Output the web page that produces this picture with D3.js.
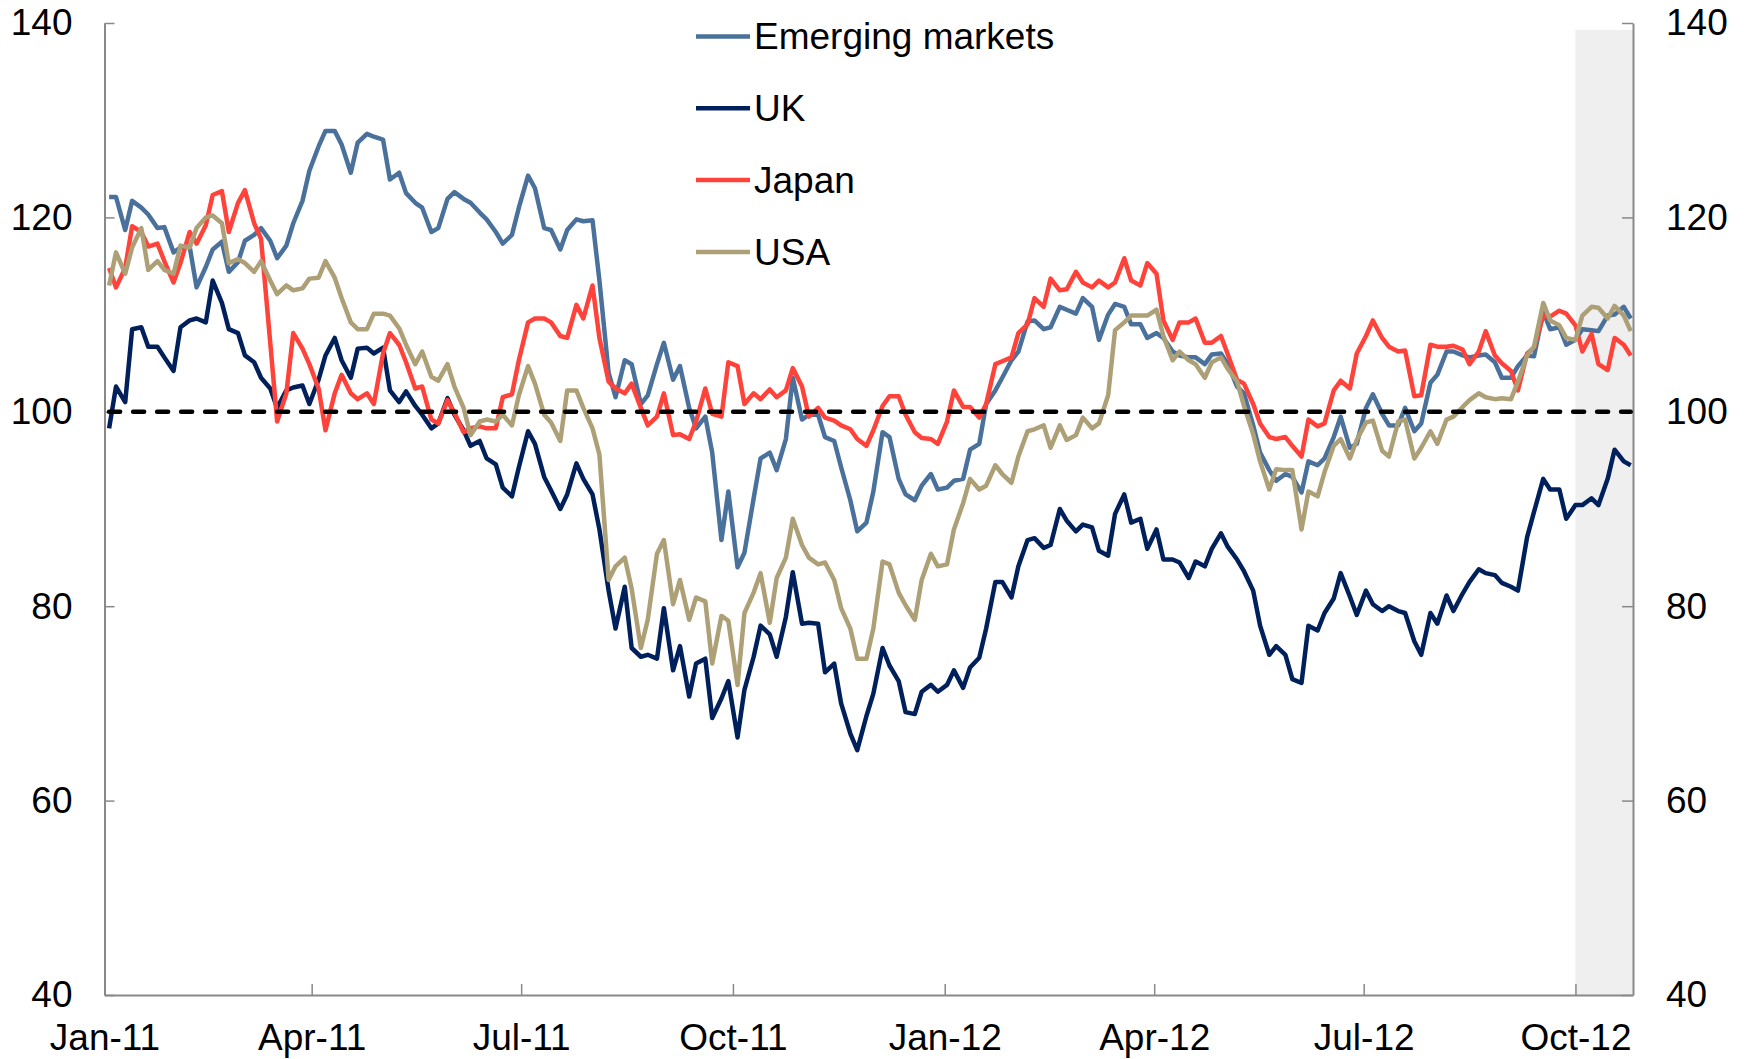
<!DOCTYPE html>
<html>
<head>
<meta charset="utf-8">
<script src="https://d3js.org/d3.v7.min.js"></script>
<style>
  body { margin: 0; background: #fff; }
  svg text { font-family: Arial, "Liberation Sans", sans-serif; fill: #000; }
</style>
</head>
<body>
<svg id="chart" width="1744" height="1059"></svg>
<script>
// stock indices, 100 = reference level, sampled twice a week (Mon / Thu) from 3 Jan 2011
var emerging = [
  122.1,122.1,118.7,121.7,121.0,120.3,118.9,119.0,116.4,116.9,117.0,112.8,114.9,116.7,117.5,114.4,115.4,117.6,118.2,118.9,
  117.6,115.8,117.1,119.4,121.7,124.8,127.3,128.9,128.9,127.5,124.6,127.7,128.6,128.3,128.0,123.9,124.6,122.5,
  121.5,121.0,118.5,118.9,121.9,122.6,121.9,121.5,120.5,119.8,118.5,117.3,118.2,121.0,124.3,123.0,118.9,118.7,116.7,118.7,
  119.8,119.6,119.7,113.5,104.0,101.5,105.3,104.9,100.8,101.7,104.9,107.1,103.3,104.7,100.4,98.3,
  99.5,95.8,86.8,91.8,84.0,85.5,91.1,95.2,95.8,94.0,97.2,103.5,99.2,99.7,99.7,97.4,97.0,94.3,90.9,87.7,
  88.6,91.8,97.9,97.4,93.1,91.5,90.9,92.4,93.6,92.0,92.2,92.9,93.1,96.1,96.7,100.8,102.2,103.5,
  105.3,106.2,109.3,109.4,108.5,108.7,110.8,110.5,110.1,111.7,110.8,107.4,110.0,111.1,110.8,109.0,109.0,107.6,108.1,107.6,
  106.2,105.8,105.6,105.6,104.9,105.9,106.0,104.9,102.6,101.9,98.6,95.8,94.0,92.9,93.6,93.3,91.7,94.9,
  94.5,95.2,97.4,99.5,96.3,96.7,100.4,101.8,99.8,98.6,98.6,100.4,98.0,98.8,103.0,103.8,106.2,106.2,105.8,105.6,
  105.8,105.9,105.1,103.5,103.5,104.7,105.8,105.7,110.3,108.5,108.7,106.9,107.4,108.5,108.4,108.3,109.9,110.0,110.8,109.6
];
var uk = [
  98.3,102.6,101.0,108.5,108.7,106.7,106.7,105.6,104.2,108.7,109.4,109.6,109.2,113.5,111.2,108.5,108.1,105.8,105.1,103.5,
  102.4,100.4,102.2,102.5,102.7,100.8,103.3,105.8,107.6,105.3,103.5,106.5,106.6,106.0,106.6,102.2,101.0,102.1,
  100.6,99.7,98.3,98.8,101.4,99.7,98.1,96.5,97.0,95.2,94.6,92.2,91.3,94.3,98.0,96.7,93.3,91.9,90.0,91.5,
  94.7,93.1,91.5,87.9,81.6,77.7,82.0,75.7,74.8,75.0,74.6,79.8,73.4,75.9,70.7,74.1,
  74.6,68.5,70.5,72.3,66.5,71.4,74.8,78.0,77.1,74.8,78.9,83.5,78.2,78.3,78.2,73.2,74.1,70.0,66.9,65.2,
  68.7,71.0,75.7,73.9,72.3,69.1,68.9,71.2,71.9,71.2,71.9,73.4,71.6,73.7,74.7,77.7,82.5,82.5,
  80.9,84.1,86.8,87.0,86.0,86.3,90.0,88.8,87.7,88.4,88.1,85.7,85.2,89.5,91.5,88.6,89.0,85.9,87.9,84.8,
  84.8,84.5,82.9,84.6,84.1,85.9,87.5,86.1,84.8,83.6,81.6,78.0,75.0,75.9,75.0,72.5,72.1,78.0,
  77.5,79.3,80.8,83.4,81.0,79.1,81.6,80.2,79.5,80.0,79.5,79.3,76.4,75.0,79.3,78.2,81.1,79.5,81.3,82.5,
  83.8,83.4,83.2,82.4,82.0,81.6,87.1,89.7,93.1,92.0,92.0,89.0,90.4,90.4,91.1,90.4,93.1,96.1,94.9,94.5
];
var japan = [
  114.8,112.8,114.8,119.1,118.5,117.0,117.3,115.5,113.3,115.3,118.5,117.3,119.2,122.3,122.7,118.5,121.5,122.8,119.4,117.8,
  107.1,99.0,101.9,108.1,106.5,104.9,102.4,98.1,101.9,103.8,101.9,101.3,101.9,100.8,106.0,108.1,106.9,105.1,
  102.4,102.6,99.2,98.8,101.2,99.9,97.9,98.3,98.5,98.3,98.3,101.5,101.8,105.3,109.2,109.6,109.6,109.2,107.8,107.6,
  111.0,109.6,113.0,107.6,103.1,102.4,101.9,102.9,100.4,98.6,99.5,101.9,97.6,97.7,97.2,99.0,
  102.4,99.8,99.5,105.1,104.7,100.8,101.9,101.3,102.3,101.5,102.2,104.5,102.6,99.5,100.4,99.4,99.1,98.6,98.2,97.2,
  96.5,98.1,100.6,101.6,101.6,99.7,97.9,97.3,97.2,96.7,99.0,102.2,100.5,100.5,99.4,100.8,104.9,105.2,
  105.6,108.1,109.0,111.7,110.8,113.7,112.5,112.6,114.4,113.3,112.8,113.5,112.8,113.3,115.8,113.5,113.0,115.3,114.2,109.4,
  107.4,109.2,109.2,109.6,107.1,107.1,107.8,105.9,103.3,102.9,100.8,98.8,97.4,97.2,97.4,96.5,95.4,99.2,
  98.5,98.8,102.2,103.2,102.4,106.0,107.8,109.4,107.6,106.7,106.2,106.3,101.6,101.7,106.9,106.7,106.7,106.8,106.4,104.9,
  106.2,108.3,105.8,105.0,104.2,102.2,106.0,106.6,109.9,109.8,110.4,110.1,108.9,106.2,108.0,104.9,104.3,107.6,106.9,105.8
];
var usa = [
  113.0,116.4,114.2,116.9,118.9,114.6,115.5,114.6,114.2,117.1,116.9,118.9,120.0,120.2,119.4,115.3,115.7,115.3,114.4,115.5,
  113.5,112.1,113.0,112.5,112.7,113.7,113.8,115.5,113.8,111.7,109.2,108.5,108.5,110.1,110.1,109.9,108.6,106.9,
  104.9,106.2,103.6,103.2,104.9,102.6,100.4,97.6,99.0,99.2,99.0,99.7,98.6,101.7,104.7,102.9,99.7,98.9,97.0,102.2,
  102.2,100.4,98.3,95.6,82.7,84.1,85.0,81.8,75.7,78.6,85.4,86.8,80.2,82.7,78.6,80.9,
  80.5,74.1,79.0,78.5,71.9,79.3,81.4,83.4,78.3,82.9,85.0,89.0,86.3,85.0,84.3,84.5,82.7,79.8,77.7,74.6,
  74.6,77.7,84.6,84.3,81.4,80.1,78.6,82.7,85.4,84.1,84.3,87.9,90.6,93.1,92.0,92.4,94.5,93.6,
  92.7,95.4,98.0,98.2,98.6,96.3,98.6,97.1,97.6,99.4,98.3,98.8,101.7,108.4,109.2,109.9,109.9,109.9,110.5,107.8,
  105.3,106.2,105.3,104.9,103.5,105.1,105.6,104.4,103.1,100.6,97.7,94.9,92.0,94.1,94.0,94.0,87.9,91.8,
  91.3,93.8,96.5,97.2,95.2,97.1,98.9,99.1,96.0,95.4,99.0,99.2,95.2,96.3,98.0,96.7,99.2,99.5,100.5,101.2,
  101.9,101.5,101.3,101.4,101.3,103.1,105.8,106.7,111.2,109.4,108.9,107.6,107.4,109.9,110.8,110.7,109.6,110.9,109.9,108.3
];

var seriesNames = ["Emerging markets", "UK", "Japan", "USA"];
var seriesValues = [emerging, uk, japan, usa];
var seriesColors = ["#4A719B", "#00205C", "#FF433A", "#ADA077"];

var yTicks = [40, 60, 80, 100, 120, 140];
var xTicks = ["2011-01-01", "2011-04-01", "2011-07-01", "2011-10-01",
              "2012-01-01", "2012-04-01", "2012-07-01", "2012-10-01"];
var refLevel = 100;
var shadeFrom = "2012-10-01";
var shadeTop = 139.3;

var parse = d3.timeParse("%Y-%m-%d");
var first = new Date(2011, 0, 3), stop = new Date(2012, 9, 26);
var dates = d3.timeMonday.range(first, stop)
  .concat(d3.timeThursday.range(first, stop))
  .sort(d3.ascending);

// plot area
var plotL = 104.5, plotR = 1633, plotT = 23, plotB = 995;

var x = d3.scaleTime()
  .domain([new Date(2011, 0, 1), new Date(2012, 9, 26)])
  .range([plotL, plotR]);
var y = d3.scaleLinear().domain([40, 140]).range([plotB, plotT]);

var svg = d3.select("#chart");
svg.append("rect").attr("width", 1744).attr("height", 1059).attr("fill", "#fff");

// shaded period
svg.append("rect")
  .attr("x", x(parse(shadeFrom)))
  .attr("y", y(shadeTop))
  .attr("width", plotR - x(parse(shadeFrom)))
  .attr("height", plotB - y(shadeTop))
  .attr("fill", "#EFEFEF");

// axes
var axisColor = "#898989";
var fontSize = "37px";

var xAxis = svg.append("g")
  .attr("transform", "translate(0," + plotB + ")")
  .call(d3.axisBottom(x)
    .tickValues(xTicks.map(parse))
    .tickFormat(d3.timeFormat("%b-%y"))
    .tickSize(-11).tickSizeOuter(0).tickPadding(29));

var yLeft = svg.append("g")
  .attr("transform", "translate(" + plotL + ",0)")
  .call(d3.axisLeft(y).tickValues(yTicks).tickFormat(d3.format("d"))
    .tickSize(-10).tickSizeOuter(0).tickPadding(32));

var yRight = svg.append("g")
  .attr("transform", "translate(" + plotR + ",0)")
  .call(d3.axisRight(y).tickValues(yTicks).tickFormat(d3.format("d"))
    .tickSize(-11).tickSizeOuter(0).tickPadding(33));

[xAxis, yLeft, yRight].forEach(function (g) {
  g.select(".domain").attr("stroke", axisColor).attr("stroke-width", 2);
  g.selectAll(".tick line").attr("stroke", axisColor).attr("stroke-width", 1.5);
  g.selectAll(".tick text")
    .attr("font-family", "Arial, 'Liberation Sans', sans-serif")
    .attr("font-size", fontSize).attr("fill", "#000");
});

// series lines
var line = d3.line()
  .x(function (d, i) { return x(dates[i]); })
  .y(function (d) { return y(d); });

seriesValues.forEach(function (vals, s) {
  svg.append("path")
    .datum(vals)
    .attr("d", line)
    .attr("fill", "none")
    .attr("stroke", seriesColors[s])
    .attr("stroke-width", 4.5)
    .attr("stroke-linejoin", "round");
});

// reference line at 100
svg.append("line")
  .attr("x1", x(dates[0])).attr("x2", x(dates[dates.length - 1]))
  .attr("y1", y(refLevel)).attr("y2", y(refLevel))
  .attr("stroke", "#000")
  .attr("stroke-width", 4.5)
  .attr("stroke-dasharray", "11,13")
  .attr("stroke-linecap", "round");

// legend
var legend = svg.append("g").attr("transform", "translate(696,36.5)");
seriesNames.forEach(function (name, i) {
  var row = legend.append("g").attr("transform", "translate(0," + (i * 71.8) + ")");
  row.append("line").attr("x1", 0).attr("x2", 54).attr("y1", 0).attr("y2", 0)
    .attr("stroke", seriesColors[i]).attr("stroke-width", 4.5);
  row.append("text").attr("x", 58).attr("dy", "0.35em")
    .attr("font-size", fontSize).text(name);
});
</script>
</body>
</html>
